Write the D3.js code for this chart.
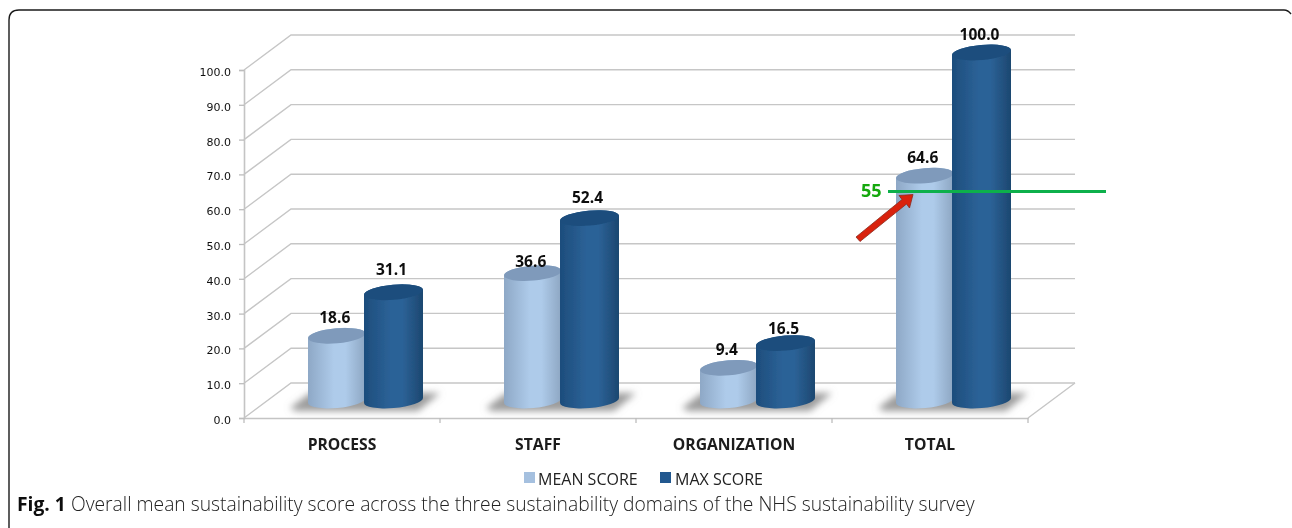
<!DOCTYPE html>
<html>
<head>
    <meta charset="utf-8">
    <title>Overall mean sustainability score</title>
    <script src="https://d3js.org/d3.v7.min.js"></script>
    <style>
        html, body { margin: 0; padding: 0; background: #fff; }
        svg { display: block; }
    </style>
</head>
<body>
    <div id="chart"></div>
    <script>

        var categories = ["PROCESS", "STAFF", "ORGANIZATION", "TOTAL"];
        var seriesNames = ["MEAN SCORE", "MAX SCORE"];
        var meanScore = [18.6, 36.6, 9.4, 64.6];
        var maxScore = [31.1, 52.4, 16.5, 100.0];
        var yTicks = [0, 10, 20, 30, 40, 50, 60, 70, 80, 90, 100];

        var width = 1292, height = 528;
        var depthX = 47, depthY = -35;   // offset of the back wall
        var baseLift = 15;               // cylinders stand this far behind the front edge
        var tilt = 2.5, ry = 7.5;

        // the value labels do not sit at one fixed distance above the cylinders
        var meanLabelNudge = [-1, 6, -1, -1];
        var maxLabelNudge = [-5, -3, 3, -1];

        var svg = d3.select("#chart").append("svg")
            .attr("width", width)
            .attr("height", height);

        var defs = svg.append("defs");

        function bodyGradient(id, edge, mid, edge2) {
            var g = defs.append("linearGradient").attr("id", id);
            g.append("stop").attr("offset", "0%").attr("stop-color", edge);
            g.append("stop").attr("offset", "45%").attr("stop-color", mid);
            g.append("stop").attr("offset", "65%").attr("stop-color", mid);
            g.append("stop").attr("offset", "100%").attr("stop-color", edge2);
        }
        bodyGradient("meanBody", "#8ea8c6", "#aecbea", "#8da6c2");
        bodyGradient("maxBody", "#1d4d7c", "#2c6297", "#1c4770");

        defs.append("filter").attr("id", "soft")
            .append("feGaussianBlur").attr("stdDeviation", 0.45);
        var shadowFilter = defs.append("filter").attr("id", "shadowBlur")
            .attr("x", "-20%").attr("y", "-50%").attr("width", "140%").attr("height", "200%");
        shadowFilter.append("feGaussianBlur").attr("stdDeviation", 3.5);

        // frame, open on the right and at the bottom
        svg.append("path")
            .attr("fill", "none")
            .attr("stroke", "#1a1a1a")
            .attr("stroke-width", 1.4)
            .attr("d", "M9,528 V20 Q9,10 19,10 H1284 Q1288,10 1291,14");

        var chart = svg.append("g").attr("filter", "url(#soft)");

        var y = d3.scaleLinear().domain([0, 100]).range([418, 70]);
        var x0 = d3.scaleBand().domain(categories).range([244, 1028]);
        var x1 = d3.scaleBand().domain(seriesNames).range([0, 115]);

        // walls and floor
        var grid = chart.append("g")
            .attr("fill", "none")
            .attr("stroke", "#c6c6c6")
            .attr("stroke-width", 1.4);

        grid.selectAll("path.grid")
            .data(yTicks)
            .enter().append("path")
            .attr("class", "grid")
            .attr("d", function(d) {
                return "M244," + y(d) + "L" + (244 + depthX) + "," + (y(d) + depthY) + "H" + (1028 + depthX);
            });

        grid.append("path")
            .attr("d", "M1028," + y(0) + "L" + (1028 + depthX) + "," + (y(0) + depthY));

        var yAxis = chart.append("g")
            .attr("transform", "translate(244,0)")
            .call(d3.axisLeft(y).tickValues(yTicks).tickFormat(d3.format(".1f")).tickSize(5).tickPadding(8));
        yAxis.selectAll("line").attr("stroke", "#bdbdbd").attr("stroke-width", 1.3);
        yAxis.select(".domain").attr("stroke", "#c4c4c4").attr("stroke-width", 1.6);
        yAxis.selectAll("text")
            .attr("dy", "0.5em")
            .style("font-family", "'DejaVu Sans'")
            .style("font-size", "11px")
            .attr("fill", "#111");

        var xAxis = chart.append("g")
            .attr("transform", "translate(0," + y(0) + ")")
            .call(d3.axisBottom(x0).tickSize(0).tickPadding(21));
        xAxis.select(".domain").attr("stroke", "#c4c4c4").attr("stroke-width", 1.4);
        xAxis.selectAll("text")
            .style("font-family", "'Open Sans'")
            .style("font-size", "15.7px")
            .style("font-weight", "700")
            .attr("fill", "#1a1a1a");

        chart.append("g").selectAll("line")
            .data(categories.concat(["end"]))
            .enter().append("line")
            .attr("x1", function(d, i) { return 244 + i * x0.step(); })
            .attr("x2", function(d, i) { return 244 + i * x0.step(); })
            .attr("y1", y(0))
            .attr("y2", y(0) + 5)
            .attr("stroke", "#bdbdbd")
            .attr("stroke-width", 1.3);

        // one cylinder: left edge at 0, upright from the value to the base
        function cylinderBody(w, top, bottom) {
            return "M0," + (top + tilt) +
                "V" + (bottom + tilt) +
                "A" + (w / 2) + "," + ry + ",-5,0,0," + w + "," + (bottom - tilt) +
                "V" + (top - tilt) +
                "A" + (w / 2) + "," + ry + ",-5,0,0,0," + (top + tilt) + "Z";
        }

        var groups = chart.selectAll("g.group")
            .data(categories)
            .enter().append("g")
            .attr("class", "group")
            .attr("transform", function(d) { return "translate(" + (x0(d) + 64) + ",0)"; });

        // shadow on the floor
        groups.append("path")
            .attr("d", "M-18,408 L2,393 H132 L110,411 H-12 Z")
            .attr("fill", "#9c9c9c")
            .attr("filter", "url(#shadowBlur)");

        var series = [
            {name: seriesNames[0], values: meanScore, nudge: meanLabelNudge, body: "url(#meanBody)", cap: "#7f9abb", w: x1.bandwidth()},
            {name: seriesNames[1], values: maxScore, nudge: maxLabelNudge, body: "url(#maxBody)", cap: "#1d4e7d", w: x1.bandwidth() + 1.5}
        ];

        series.forEach(function(s, si) {
            var cyl = groups.append("g")
                .attr("transform", function() {
                    return "translate(" + (x1(s.name) - (si ? 1.5 : 0)) + ",0)";
                });

            function top(i) { return y(s.values[i]) - baseLift - tilt; }
            var bottom = y(0) - baseLift - tilt;

            cyl.append("path")
                .attr("d", function(d, i) { return cylinderBody(s.w, top(i), bottom); })
                .attr("fill", s.body);

            cyl.append("ellipse")
                .attr("cx", s.w / 2)
                .attr("cy", function(d, i) { return top(i); })
                .attr("rx", s.w / 2)
                .attr("ry", ry)
                .attr("transform", function(d, i) { return "rotate(-5," + (s.w / 2) + "," + top(i) + ")"; })
                .attr("fill", s.cap);

            cyl.append("text")
                .attr("x", s.w / 2 - 2)
                .attr("y", function(d, i) { return top(i) - 12 + s.nudge[i]; })
                .attr("text-anchor", "middle")
                .style("font-family", "'Open Sans'")
                .style("font-size", "15.5px")
                .style("font-weight", "700")
                .attr("fill", "#111")
                .text(function(d, i) { return s.values[i].toFixed(1); });
        });

        // threshold annotation
        chart.append("line")
            .attr("x1", 888).attr("x2", 1106)
            .attr("y1", 191.5).attr("y2", 191.5)
            .attr("stroke", "#0fb04c")
            .attr("stroke-width", 3);
        chart.append("text")
            .attr("x", 861).attr("y", 197)
            .style("font-family", "'Open Sans'")
            .style("font-size", "18px")
            .style("font-weight", "700")
            .attr("fill", "#12a80e")
            .text("55");

        // red arrow
        chart.append("path")
            .attr("d", "M856,237 L902,199.5 L899,195.5 L913,194.5 L909.5,208 L906.5,204 L860,241.5 Z")
            .attr("fill", "#d9230f")
            .attr("stroke", "#8a2a1c")
            .attr("stroke-width", 0.8);

        // legend
        var legendSwatches = [524, 660], legendLabels = [538, 675], legendFill = ["#a5c0df", "#22598f"];
        seriesNames.forEach(function(name, i) {
            chart.append("rect")
                .attr("x", legendSwatches[i]).attr("y", 472)
                .attr("width", 11).attr("height", 11)
                .attr("fill", legendFill[i]);
            chart.append("text")
                .attr("x", legendLabels[i]).attr("y", 485)
                .style("font-family", "'Open Sans'")
                .style("font-size", "16px")
                .attr("fill", "#222")
                .text(name);
        });

        // caption
        var caption = chart.append("text")
            .attr("x", 17).attr("y", 511)
            .style("font-family", "'Open Sans'")
            .style("font-size", "19.3px")
            .style("font-weight", "300")
            .attr("fill", "#222");
        caption.append("tspan")
            .style("font-weight", "700")
            .attr("fill", "#111")
            .text("Fig. 1");
        caption.append("tspan")
            .text(" Overall mean sustainability score across the three sustainability domains of the NHS sustainability survey");

    </script>
</body>
</html>
